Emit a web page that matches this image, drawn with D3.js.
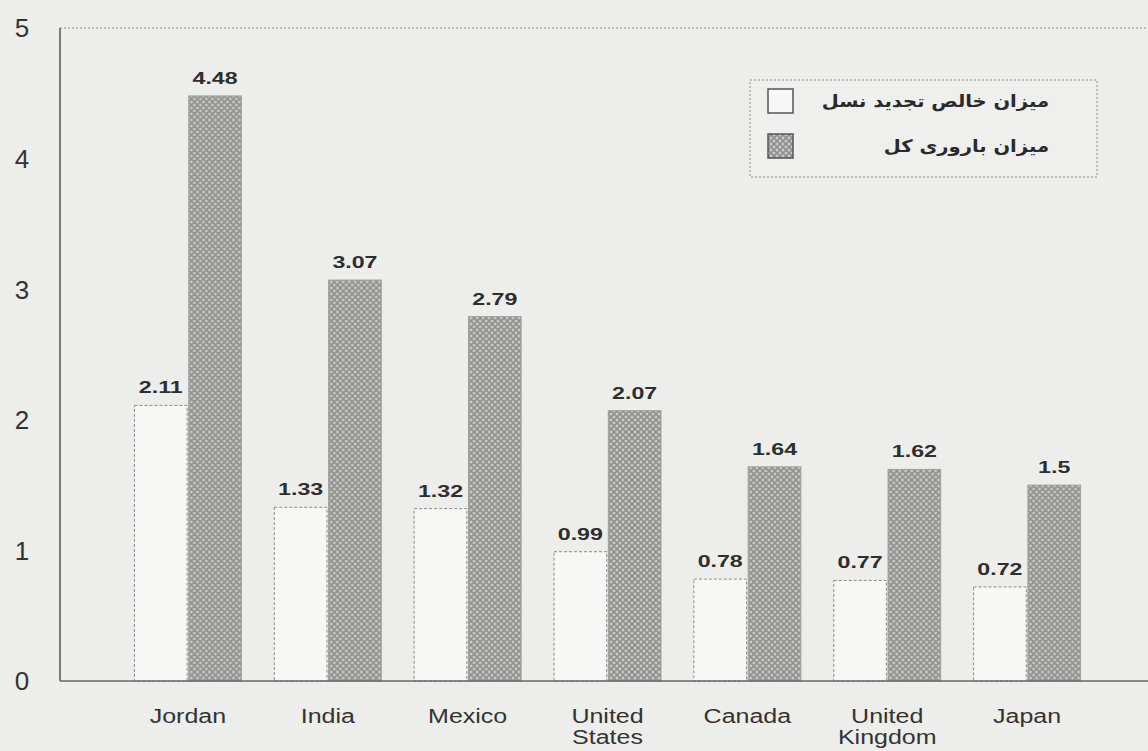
<!DOCTYPE html>
<html>
<head>
<meta charset="utf-8">
<script src="https://cdn.jsdelivr.net/npm/d3@7/dist/d3.min.js"></script>
<style>
  html, body { margin: 0; padding: 0; background: #ededeb; }
  svg { display: block; }
</style>
</head>
<body>
<svg id="chart" width="1148" height="751"></svg>
<script>
// Countries along the x axis (two-word names wrap onto two lines)
const countries = ["Jordan", "India", "Mexico", "United States", "Canada", "United Kingdom", "Japan"];
const countryLines = [["Jordan"], ["India"], ["Mexico"], ["United", "States"], ["Canada"], ["United", "Kingdom"], ["Japan"]];

// Series names (legend text)
const seriesNames = ["میزان خالص تجدید نسل", "میزان باروری کل"];

// Net reproduction rate
const netReproduction = [2.11, 1.33, 1.32, 0.99, 0.78, 0.77, 0.72];
// Total fertility rate
const totalFertility = [4.48, 3.07, 2.79, 2.07, 1.64, 1.62, 1.5];

// Y axis ticks
const yTicks = [0, 1, 2, 3, 4, 5];

const svg = d3.select("#chart");
const W = 1148, H = 751;

const plot = { left: 60, right: 1148, top: 28, bottom: 681 };

// Hatched fill for the total-fertility bars
const defs = svg.append("defs");
const pat = defs.append("pattern")
  .attr("id", "hatch")
  .attr("patternUnits", "userSpaceOnUse")
  .attr("width", 6).attr("height", 6);
pat.append("rect").attr("width", 6).attr("height", 6).attr("fill", "#b4b4b2");
pat.append("path").attr("d", "M0,0 L6,6 M6,0 L0,6")
  .attr("stroke", "#8f8f8d").attr("stroke-width", 1.3);
[[3, 0], [0, 3], [6, 3], [3, 6]].forEach(([cx, cy]) =>
  pat.append("circle").attr("cx", cx).attr("cy", cy).attr("r", 0.9).attr("fill", "#d2d2d0"));

// Background
svg.append("rect").attr("width", W).attr("height", H).attr("fill", "#ededeb");

// Scales
const y = d3.scaleLinear().domain([0, 5]).range([plot.bottom, plot.top]);
const x0 = d3.scaleBand().domain(countries).range([118, 1097])
  .paddingInner(0.235).paddingOuter(0.1175);
const x1 = d3.scaleBand().domain([0, 1]).range([0, x0.bandwidth()]).paddingInner(0.03);

// Top dotted frame line
svg.append("line")
  .attr("x1", plot.left).attr("x2", plot.right)
  .attr("y1", plot.top).attr("y2", plot.top)
  .attr("stroke", "#8a8a8a").attr("stroke-width", 1)
  .attr("stroke-dasharray", "2,2");

// Bars
const groups = svg.append("g").selectAll("g")
  .data(countries)
  .join("g")
  .attr("transform", d => `translate(${x0(d)},0)`);

const barData = i => [
  { s: 0, v: netReproduction[i] },
  { s: 1, v: totalFertility[i] }
];

groups.each(function(d, i) {
  const g = d3.select(this);
  const bars = barData(i);
  g.selectAll("rect.bar")
    .data(bars)
    .join("rect")
    .attr("class", "bar")
    .attr("x", b => x1(b.s))
    .attr("y", b => y(b.v))
    .attr("width", x1.bandwidth())
    .attr("height", b => y(0) - y(b.v))
    .attr("fill", b => b.s === 0 ? "#f7f7f5" : "url(#hatch)")
    .attr("stroke", b => b.s === 0 ? "#8c8c8c" : "#a0a09e")
    .attr("stroke-width", 1)
    .attr("stroke-dasharray", b => b.s === 0 ? "3,2" : null);

  // value labels, printed wide and bold
  g.selectAll("text.val")
    .data(bars)
    .join("text")
    .attr("class", "val")
    .attr("transform", b => `translate(${x1(b.s) + x1.bandwidth() / 2},${y(b.v) - 12}) scale(1.45,1)`)
    .attr("text-anchor", "middle")
    .attr("font-family", "Liberation Sans, Arial, sans-serif")
    .attr("font-weight", "bold")
    .attr("font-size", 16)
    .attr("fill", "#2e2e2e")
    .text(b => b.v);
});

// Left axis line
svg.append("line")
  .attr("x1", plot.left).attr("x2", plot.left)
  .attr("y1", plot.top).attr("y2", plot.bottom)
  .attr("stroke", "#555").attr("stroke-width", 1.5);

// Baseline
svg.append("line")
  .attr("x1", plot.left).attr("x2", plot.right)
  .attr("y1", plot.bottom).attr("y2", plot.bottom)
  .attr("stroke", "#666").attr("stroke-width", 1.5);

// Y tick labels
svg.append("g").selectAll("text")
  .data(yTicks)
  .join("text")
  .attr("x", 22)
  .attr("y", d => y(d))
  .attr("dy", "0.36em")
  .attr("text-anchor", "middle")
  .attr("font-family", "Liberation Sans, Arial, sans-serif")
  .attr("font-size", 26)
  .attr("fill", "#333")
  .text(d => d);

// X category labels (each line its own text so wrapped names stack cleanly)
const xl = svg.append("g").selectAll("g")
  .data(countries)
  .join("g")
  .attr("transform", d => `translate(${x0(d) + x0.bandwidth() / 2},0)`);
xl.each(function(d, i) {
  d3.select(this).selectAll("text")
    .data(countryLines[i])
    .join("text")
    .attr("transform", (line, k) => `translate(0,${723 + k * 21}) scale(1.25,1)`)
    .attr("text-anchor", "middle")
    .attr("font-family", "Liberation Sans, Arial, sans-serif")
    .attr("font-size", 20)
    .attr("fill", "#333")
    .text(line => line);
});

// Legend
const legend = svg.append("g");
legend.append("rect")
  .attr("x", 750).attr("y", 80).attr("width", 347).attr("height", 97)
  .attr("fill", "#efefed")
  .attr("stroke", "#8a8a8a").attr("stroke-width", 1)
  .attr("stroke-dasharray", "2,2");

const legendRows = [0, 1];
legend.selectAll("rect.sw")
  .data(legendRows)
  .join("rect")
  .attr("class", "sw")
  .attr("x", 768)
  .attr("y", s => 89 + s * 45)
  .attr("width", 25).attr("height", 24)
  .attr("fill", s => s === 0 ? "#f7f7f5" : "url(#hatch)")
  .attr("stroke", "#555").attr("stroke-width", 1.5);

legend.selectAll("text.lt")
  .data(legendRows)
  .join("text")
  .attr("class", "lt")
  .attr("transform", s => `translate(1049,${101 + s * 45}) scale(1.15,1)`)
  .attr("dy", "0.35em")
  .attr("text-anchor", "end")
  .attr("font-family", "DejaVu Sans, sans-serif")
  .attr("font-weight", "bold")
  .attr("font-size", 17)
  .attr("fill", "#2a2a2a")
  .text(s => seriesNames[s]);
</script>
</body>
</html>
